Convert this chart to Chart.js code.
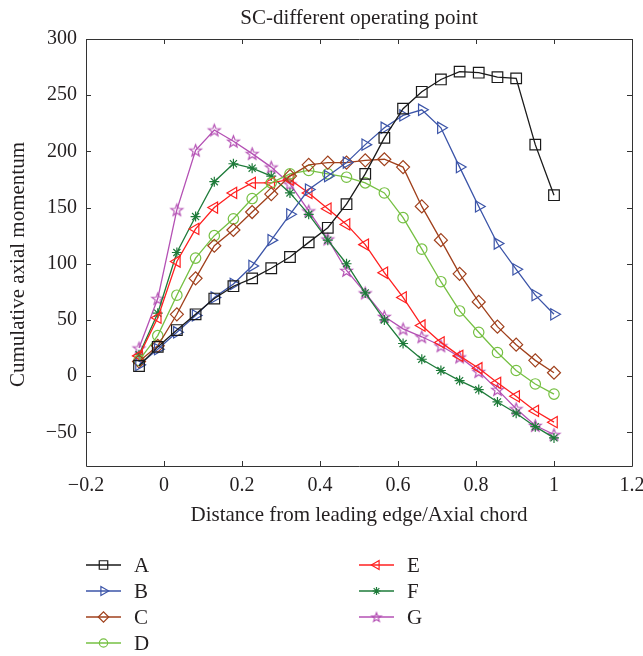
<!doctype html>
<html lang="en">
<head>
  <meta charset="utf-8">
  <title>SC-different operating point</title>
  <script src="https://cdn.jsdelivr.net/npm/chart.js@4.4.1/dist/chart.umd.min.js"></script>
  <style>
    body { margin: 0; background: #fff; }
    canvas { display: block; }
  </style>
</head>
<body>
<canvas id="myChart" width="643" height="656"></canvas>

<script>
// x stations (distance from leading edge / axial chord)
var xs = [-0.064, -0.016, 0.033, 0.081, 0.129, 0.178, 0.226, 0.275, 0.323, 0.371, 0.420, 0.468,
          0.516, 0.565, 0.613, 0.661, 0.710, 0.758, 0.807, 0.855, 0.903, 0.952, 1.000];

var seriesA = [9, 26, 41, 55, 69, 80, 87, 96, 106, 119, 132, 153, 180, 212, 238, 253, 264, 271, 270, 266, 265, 206, 161];
var seriesB = [10, 24, 39, 54, 70, 82, 98, 121, 144, 166, 178, 190, 206, 221, 232, 237, 221, 186, 151, 118, 95, 72, 55];
var seriesC = [13, 27, 55, 87, 116, 130, 146, 162, 178, 188, 190, 190, 192, 193, 186, 151, 121, 91, 66, 44, 28, 14, 3];
var seriesD = [14, 36, 72, 105, 125, 140, 158, 172, 180, 183, 180, 177, 172, 163, 141, 113, 84, 58, 39, 21, 5, -7, -16];
var seriesE = [18, 52, 102, 131, 150, 163, 172, 172, 175, 163, 149, 135, 117, 92, 70, 45, 30, 18, 7, -6, -18, -31, -41];
var seriesF = [19, 56, 110, 142, 173, 189, 185, 178, 163, 144, 121, 100, 74, 50, 29, 15, 5, -4, -12, -23, -33, -45, -55];
var seriesG = [25, 69, 148, 201, 219, 209, 198, 186, 171, 147, 122, 94, 74, 53, 42, 35, 27, 17, 4, -12, -29, -44, -52];

var seriesNames = ['A', 'B', 'C', 'D', 'E', 'F', 'G'];
var xTicks = [-0.2, 0, 0.2, 0.4, 0.6, 0.8, 1, 1.2];
var xTickLabels = ['\u22120.2', '0', '0.2', '0.4', '0.6', '0.8', '1', '1.2'];
var yTicks = [-50, 0, 50, 100, 150, 200, 250, 300];
var yTickLabels = ['\u221250', '0', '50', '100', '150', '200', '250', '300'];
</script>

<script>
var FONT = '"Liberation Serif", "Times New Roman", serif';
var TEXT = '#231f20';

// pentagram marker (matlab 'p')
function makePentagram(color, rOut) {
  var size = Math.ceil(rOut * 2 + 4);
  var c = document.createElement('canvas');
  c.width = size; c.height = size;
  var g = c.getContext('2d');
  g.strokeStyle = color;
  g.lineWidth = 1.2;
  g.beginPath();
  for (var i = 0; i < 10; i++) {
    var r = (i % 2 === 0) ? rOut : rOut * 0.42;
    var a = -Math.PI / 2 + i * Math.PI / 5;
    var px = size / 2 + r * Math.cos(a), py = size / 2 + 0.6 + r * Math.sin(a);
    if (i === 0) g.moveTo(px, py); else g.lineTo(px, py);
  }
  g.closePath();
  g.stroke();
  return c;
}

var styles = [
  {color: '#1a1a1a', point: 'rect',     radius: 7.5, rot: 0},
  {color: '#3b54a8', point: 'triangle', radius: 6.5, rot: 90},
  {color: '#a0401c', point: 'rectRot',  radius: 6.5, rot: 0},
  {color: '#76c043', point: 'circle',   radius: 5.2, rot: 0},
  {color: '#ff2020', point: 'triangle', radius: 6.5, rot: -90},
  {color: '#1e7b3a', point: 'star',     radius: 5,   rot: 0},
  {color: '#b450b4', point: null,       radius: 6,   rot: 0}
];
styles[6].point = makePentagram(styles[6].color, 6.2);
var legendStar = makePentagram(styles[6].color, 4.8);

var allSeries = [seriesA, seriesB, seriesC, seriesD, seriesE, seriesF, seriesG];

var datasets = allSeries.map(function (vals, i) {
  var st = styles[i];
  return {
    label: seriesNames[i],
    data: vals.map(function (v, k) { return {x: xs[k], y: v}; }),
    borderColor: st.color,
    backgroundColor: 'rgba(0,0,0,0)',
    borderWidth: 1.3,
    pointStyle: st.point,
    pointRotation: st.rot,
    pointRadius: st.radius,
    pointBorderColor: st.color,
    pointBackgroundColor: 'rgba(0,0,0,0)',
    pointBorderWidth: 1.2,
    tension: 0,
    fill: false
  };
});

// box, inward ticks and the texts placed like the matlab figure
var frame = {
  id: 'frame',
  beforeDatasetsDraw: function (chart) {
    var ctx = chart.ctx, a = chart.chartArea;
    var sx = chart.scales.x, sy = chart.scales.y;
    ctx.save();
    ctx.strokeStyle = '#333';
    ctx.lineWidth = 1;
    ctx.beginPath();
    ctx.rect(Math.round(a.left) + 0.5, Math.round(a.top) + 0.5, Math.round(a.width), Math.round(a.height));
    sx.ticks.forEach(function (t) {
      var px = Math.round(sx.getPixelForValue(t.value)) + 0.5;
      ctx.moveTo(px, a.bottom); ctx.lineTo(px, a.bottom - 5);
      ctx.moveTo(px, a.top); ctx.lineTo(px, a.top + 5);
    });
    sy.ticks.forEach(function (t) {
      var py = Math.round(sy.getPixelForValue(t.value)) + 0.5;
      ctx.moveTo(a.left, py); ctx.lineTo(a.left + 5, py);
      ctx.moveTo(a.right, py); ctx.lineTo(a.right - 5, py);
    });
    ctx.stroke();

    ctx.fillStyle = TEXT;
    ctx.font = '21px ' + FONT;
    ctx.textAlign = 'center';
    ctx.textBaseline = 'middle';
    var cx = (a.left + a.right) / 2;
    ctx.fillText('SC-different operating point', cx, 18);
    ctx.fillText('Distance from leading edge/Axial chord', cx, a.bottom + 49);
    ctx.translate(18, (a.top + a.bottom) / 2 + 12);
    ctx.rotate(-Math.PI / 2);
    ctx.fillText('Cumulative axial momentum', 0, 0);
    ctx.restore();
  }
};

// two-column legend under the axis title (A-D left, E-G right)
var colLegend = {
  id: 'colLegend',
  afterDraw: function (chart) {
    var ctx = chart.ctx, a = chart.chartArea;
    chart.data.datasets.forEach(function (ds, i) {
      var col = i < 4 ? 0 : 1;
      var row = i < 4 ? i : i - 4;
      var x0 = col === 0 ? a.left : a.left + 273;
      var y = a.bottom + 99 + row * 26;
      ctx.save();
      ctx.strokeStyle = ds.borderColor;
      ctx.lineWidth = 1.3;
      ctx.beginPath();
      ctx.moveTo(x0, y); ctx.lineTo(x0 + 35, y);
      ctx.stroke();
      ctx.fillStyle = 'rgba(0,0,0,0)';
      ctx.lineWidth = 1.2;
      Chart.helpers.drawPoint(ctx, {
        pointStyle: i === 6 ? legendStar : ds.pointStyle, rotation: ds.pointRotation,
        radius: ds.pointRadius * 0.8, borderWidth: 1.2
      }, x0 + 17.5, y);
      ctx.fillStyle = TEXT;
      ctx.font = '21px ' + FONT;
      ctx.textBaseline = 'middle';
      ctx.textAlign = 'left';
      ctx.fillText(ds.label, x0 + 48, y + 1);
      ctx.restore();
    });
  }
};

function noPad(s) { s.paddingLeft = 0; s.paddingRight = 0; s.paddingTop = 0; s.paddingBottom = 0; }

var ctx = document.getElementById('myChart').getContext('2d');
var myChart = new Chart(ctx, {
  type: 'line',
  data: {datasets: datasets},
  options: {
    responsive: false,
    devicePixelRatio: 1,
    animation: false,
    layout: {padding: {left: 0, right: 11, top: 39, bottom: 100}},
    plugins: {
      legend: {display: false},
      tooltip: {enabled: false},
      title: {display: false}
    },
    scales: {
      x: {
        type: 'linear',
        min: -0.2, max: 1.2,
        afterBuildTicks: function (s) { s.ticks = xTicks.map(function (v) { return {value: v}; }); },
        afterFit: function (s) { s.height = 90; noPad(s); },
        grid: {display: false, drawTicks: false},
        border: {display: false},
        ticks: {
          color: TEXT, padding: 8, maxRotation: 0,
          font: {family: FONT, size: 20},
          callback: function (v) { var k = xTicks.indexOf(v); return k >= 0 ? xTickLabels[k] : ''; }
        }
      },
      y: {
        min: -80, max: 300,
        afterBuildTicks: function (s) { s.ticks = yTicks.map(function (v) { return {value: v}; }); },
        afterFit: function (s) { s.width = 86; noPad(s); },
        grid: {display: false, drawTicks: false},
        border: {display: false},
        ticks: {
          color: TEXT, padding: 9,
          font: {family: FONT, size: 20},
          callback: function (v) { var k = yTicks.indexOf(v); return k >= 0 ? yTickLabels[k] : ''; }
        }
      }
    }
  },
  plugins: [frame, colLegend]
});
</script>
</body>
</html>
